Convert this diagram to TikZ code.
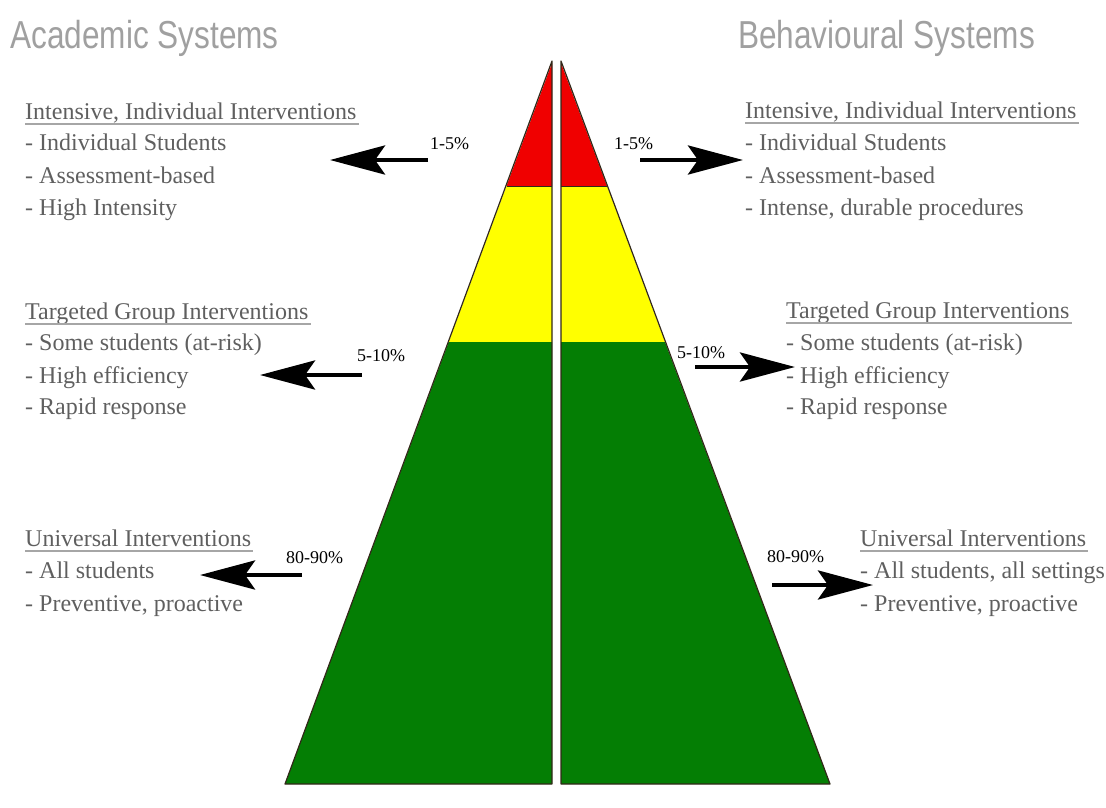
\documentclass[tikz,border=0pt]{standalone}
\usepackage{graphicx}
\usepackage{fontspec}
\setmainfont{Liberation Serif}
\newfontfamily\headfont{Liberation Sans}
\usetikzlibrary{arrows.meta}

\definecolor{tierred}{RGB}{240,0,0}
\definecolor{tieryellow}{RGB}{255,255,0}
\definecolor{tiergreen}{RGB}{4,126,4}
\definecolor{bodygray}{RGB}{95,95,95}
\definecolor{headgray}{RGB}{160,160,160}
\definecolor{edgedark}{RGB}{50,40,25}

\tikzset{
  title/.style={anchor=base west, inner sep=0pt, text=headgray,
    font=\headfont\fontsize{39}{39}\selectfont},
  heading/.style={anchor=base west, inner sep=0pt, text=bodygray,
    font=\fontsize{24}{24}\selectfont},
  item/.style={anchor=base west, inner sep=0pt, text=bodygray,
    font=\fontsize{24}{24}\selectfont},
  pct/.style={anchor=base west, inner sep=0pt, text=black,
    font=\fontsize{18}{18}\selectfont},
  uline/.style={draw=gray!70, line width=1.2pt},
  bigarrow/.style={draw=black, line width=4.5pt,
    -{Stealth[length=55pt,width=29pt,inset=10pt]}},
  tier/.style={draw=edgedark, line width=1.2pt, line join=round}
}

\begin{document}
\begin{tikzpicture}[x=1pt,y=-1pt]
\useasboundingbox (0,0) rectangle (1106,807);

% ---- left half of the pyramid ----
\fill[tierred]    (552,63) -- (506.5,186) -- (552,186) -- cycle;
\fill[tieryellow] (506.5,186) -- (448.7,342) -- (552,342) -- (552,186) -- cycle;
\fill[tiergreen]  (448.7,342) -- (285,784) -- (552,784) -- (552,342) -- cycle;
\draw[tier] (552,61) -- (285,784) -- (552,784) -- cycle;
\draw[edgedark, line width=0.8pt] (506.5,186) -- (552,186);

% ---- right half of the pyramid ----
\fill[tierred]    (561,63) -- (607,186) -- (561,186) -- cycle;
\fill[tieryellow] (607,186) -- (665,342) -- (561,342) -- (561,186) -- cycle;
\fill[tiergreen]  (665,342) -- (830,784) -- (561,784) -- (561,342) -- cycle;
\draw[tier] (561,61) -- (830,784) -- (561,784) -- cycle;
\draw[edgedark, line width=0.8pt] (561,186) -- (607,186);

% ---- titles ----
\node[title] (tA) at (10,48) {\scalebox{0.81}[1]{Academic Systems}};
\node[title] (tB) at (738,48) {\scalebox{0.81}[1]{Behavioural Systems}};

% ---- left column ----
\node[heading] (l1h) at (25,119) {Intensive, Individual Interventions};
\draw[uline] ([yshift=-5pt]l1h.base west) -- ([yshift=-5pt,xshift=2pt]l1h.base east);
\node[item] (l1a) at (25,150) {- Individual Students};
\node[item] (l1b) at (25,183) {- Assessment-based};
\node[item] (l1c) at (25,215) {- High Intensity};

\node[heading] (l2h) at (25,319) {Targeted Group Interventions};
\draw[uline] ([yshift=-5pt]l2h.base west) -- ([yshift=-5pt,xshift=2pt]l2h.base east);
\node[item] (l2a) at (25,350) {- Some students (at-risk)};
\node[item] (l2b) at (25,383) {- High efficiency};
\node[item] (l2c) at (25,414) {- Rapid response};

\node[heading] (l3h) at (25,546) {Universal Interventions};
\draw[uline] ([yshift=-5pt]l3h.base west) -- ([yshift=-5pt,xshift=2pt]l3h.base east);
\node[item] (l3a) at (25,578) {- All students};
\node[item] (l3b) at (25,611) {- Preventive, proactive};

% ---- right column ----
\node[heading] (r1h) at (745,118) {Intensive, Individual Interventions};
\draw[uline] ([yshift=-5pt]r1h.base west) -- ([yshift=-5pt,xshift=2pt]r1h.base east);
\node[item] (r1a) at (745,150) {- Individual Students};
\node[item] (r1b) at (745,183) {- Assessment-based};
\node[item] (r1c) at (745,215) {- Intense, durable procedures};

\node[heading] (r2h) at (786,318) {Targeted Group Interventions};
\draw[uline] ([yshift=-5pt]r2h.base west) -- ([yshift=-5pt,xshift=2pt]r2h.base east);
\node[item] (r2a) at (786,350) {- Some students (at-risk)};
\node[item] (r2b) at (786,383) {- High efficiency};
\node[item] (r2c) at (786,414) {- Rapid response};

\node[heading] (r3h) at (860,546) {Universal Interventions};
\draw[uline] ([yshift=-5pt]r3h.base west) -- ([yshift=-5pt,xshift=2pt]r3h.base east);
\node[item] (r3a) at (860,578) {- All students, all settings};
\node[item] (r3b) at (860,611) {- Preventive, proactive};

% ---- percentage labels ----
\node[pct] (p1L) at (430,149) {1-5\%};
\node[pct] (p1R) at (614,149) {1-5\%};
\node[pct] (p2L) at (357,361) {5-10\%};
\node[pct] (p2R) at (677,358) {5-10\%};
\node[pct] (p3L) at (286,563) {80-90\%};
\node[pct] (p3R) at (767,562) {80-90\%};

% ---- arrow end points ----
\coordinate (a1Ls) at (428,160); \coordinate (a1Le) at (330,160);
\coordinate (a1Rs) at (640,160); \coordinate (a1Re) at (743,160);
\coordinate (a2Ls) at (362,375); \coordinate (a2Le) at (260,375);
\coordinate (a2Rs) at (695,367); \coordinate (a2Re) at (795,367);
\coordinate (a3Ls) at (302,575); \coordinate (a3Le) at (200,575);
\coordinate (a3Rs) at (772,585); \coordinate (a3Re) at (873,585);

\draw[bigarrow] (a1Ls) -- (a1Le);
\draw[bigarrow] (a1Rs) -- (a1Re);
\draw[bigarrow] (a2Ls) -- (a2Le);
\draw[bigarrow] (a2Rs) -- (a2Re);
\draw[bigarrow] (a3Ls) -- (a3Le);
\draw[bigarrow] (a3Rs) -- (a3Re);
\end{tikzpicture}
\end{document}
